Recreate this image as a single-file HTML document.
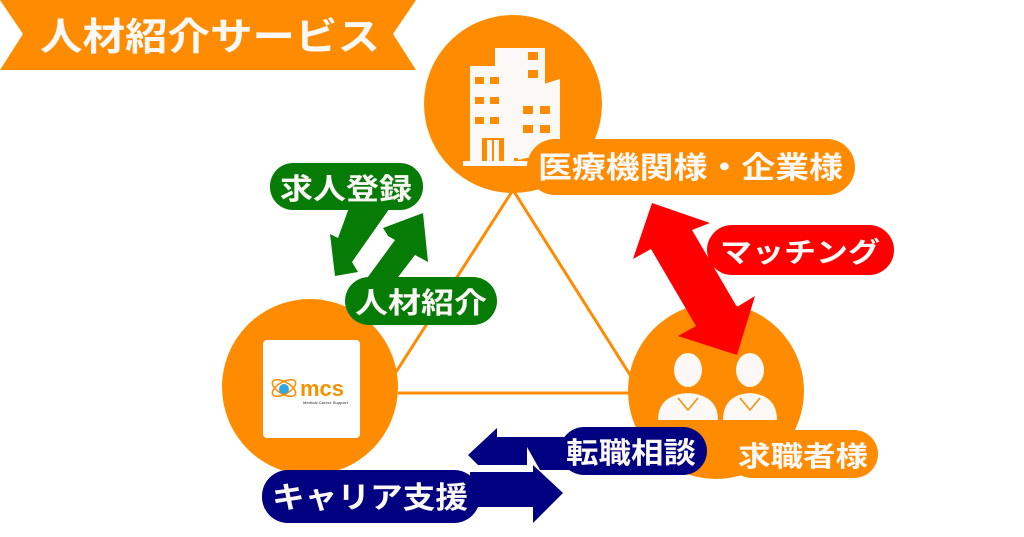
<!DOCTYPE html>
<html><head><meta charset="utf-8"><style>
html,body{margin:0;padding:0;background:#fff;width:1024px;height:537px;overflow:hidden}
svg text{font-family:"Liberation Sans","Noto Sans CJK JP",sans-serif;font-weight:bold;fill:#fbf8f6}
</style></head><body>
<svg width="1024" height="537" viewBox="0 0 1024 537" xmlns="http://www.w3.org/2000/svg">
<polygon points="0,0 416,0 393,34 416,70 0,70 23,34" fill="#ff8c00"/>
<text x="40" y="50" font-size="38" textLength="340" lengthAdjust="spacingAndGlyphs">人材紹介サービス</text>

<g stroke="#ff8c00" stroke-width="3" fill="none">
<line x1="513" y1="190" x2="396" y2="372"/>
<line x1="513" y1="190" x2="632" y2="378"/>
<line x1="398" y1="393" x2="630" y2="393"/>
</g>

<circle cx="513" cy="104" r="89" fill="#ff8c00"/>
<circle cx="310" cy="387" r="88" fill="#ff8c00"/>
<circle cx="716" cy="391" r="88" fill="#ff8c00"/>

<g fill="#fbf8f6">
<rect x="495" y="48" width="50" height="110"/>
<rect x="470" y="66" width="44" height="98"/>
<polygon points="518,92 560,79 560,150 518,160"/>
<rect x="463" y="161" width="85" height="5"/>
</g>
<g fill="#ff8c00">
<rect x="475" y="77" width="9" height="7"/><rect x="490" y="77" width="9" height="7"/>
<rect x="475" y="97" width="9" height="7"/><rect x="490" y="97" width="9" height="7"/>
<rect x="475" y="117" width="9" height="7"/><rect x="490" y="117" width="9" height="7"/>
<rect x="528" y="52" width="10" height="8"/><rect x="528" y="70" width="10" height="8"/>
<rect x="523" y="106" width="10" height="8"/><rect x="540" y="106" width="10" height="8"/>
<rect x="523" y="125" width="10" height="8"/><rect x="540" y="125" width="10" height="8"/>
<rect x="482" y="138" width="22" height="23"/>
</g>
<rect x="487" y="140" width="12" height="21" fill="#fbf8f6"/>
<line x1="493" y1="140" x2="493" y2="161" stroke="#ff8c00" stroke-width="2"/>

<rect x="263" y="340" width="97" height="98" rx="4" fill="#fff"/>
<g fill="none" stroke="#ff8c00" stroke-width="1.5">
<ellipse cx="284" cy="388" rx="13" ry="6" transform="rotate(30 284 388)"/>
<ellipse cx="284" cy="388" rx="13" ry="6" transform="rotate(-30 284 388)"/>
</g>
<circle cx="284" cy="389" r="5" fill="#2ea7e0"/>
<text x="300" y="396" font-size="22" style="fill:#f39200" font-weight="normal">mcs</text>
<text x="303" y="404" font-size="4" style="fill:#666">Medical Career Support</text>

<g fill="#fbf8f6">
<ellipse cx="688" cy="370" rx="14" ry="17"/>
<path d="M658,420 Q658,395 688,393 Q718,395 718,420 Z"/>
<ellipse cx="750" cy="370" rx="14" ry="17"/>
<path d="M723,420 Q723,395 750,393 Q777,395 777,420 Z"/>
</g>
<g stroke="#ff8c00" stroke-width="1.5" fill="none">
<path d="M678,398 L688,410 L698,398"/><path d="M740,398 L750,410 L760,398"/>
</g>

<rect x="527" y="139" width="328" height="56" rx="28" fill="#ff8c00"/>
<text x="538" y="178" font-size="30" textLength="305" lengthAdjust="spacingAndGlyphs">医療機関様・企業様</text>

<polygon points="652,203 710,223 692,230 737,307 755,296 737,355 678,336 696,326 651,249 633,259" fill="#f00"/>
<rect x="707" y="225" width="187" height="50" rx="25" fill="#f00"/>
<text x="720" y="262" font-size="28" textLength="160" lengthAdjust="spacingAndGlyphs">マッチング</text>

<rect x="728" y="430" width="150" height="48" rx="24" fill="#ff8c00"/>
<text x="738" y="466" font-size="28" textLength="130" lengthAdjust="spacingAndGlyphs">求職者様</text>

<polygon points="350,205 392,205 352,262 358,272 335,276 330,234 338,238" fill="#067b06"/>
<polygon points="383,228 423,213 428,262 415,255 392,285 362,285 395,240 388,236" fill="#067b06"/>
<rect x="270" y="163" width="153" height="47" rx="23" fill="#067b06"/>
<text x="280" y="199" font-size="29" textLength="132" lengthAdjust="spacingAndGlyphs">求人登録</text>
<rect x="345" y="277" width="152" height="48" rx="24" fill="#067b06"/>
<text x="355" y="313" font-size="29" textLength="132" lengthAdjust="spacingAndGlyphs">人材紹介</text>

<polygon points="497,428 497,437 570,437 570,470 540,470 527,447 527,465 478,465 468,455" fill="#000080"/>
<polygon points="533,465 563,493 533,523 533,507 470,507 470,472 533,472" fill="#000080"/>
<rect x="560" y="427" width="147" height="48" rx="24" fill="#000080"/>
<text x="566" y="463" font-size="29" textLength="130" lengthAdjust="spacingAndGlyphs">転職相談</text>
<rect x="262" y="470" width="218" height="53" rx="26" fill="#000080"/>
<text x="272" y="508" font-size="30" textLength="196" lengthAdjust="spacingAndGlyphs">キャリア支援</text>
</svg>
</body></html>
